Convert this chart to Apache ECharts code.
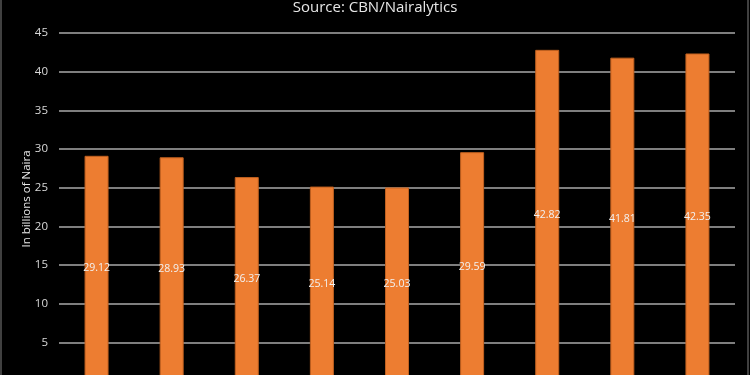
<!DOCTYPE html>
<html>
<head>
<meta charset="utf-8">
<script src="https://cdn.jsdelivr.net/npm/echarts@6/dist/echarts.min.js"></script>
<style>
html,body{margin:0;padding:0;background:#000;}
#chart{width:750px;height:375px;}
</style>
</head>
<body>
<div id="chart"></div>
<script>
const categories = ['P1','P2','P3','P4','P5','P6','P7','P8','P9'];
const values = [29.12, 28.93, 26.37, 25.14, 25.03, 29.59, 42.82, 41.81, 42.35];
const titleText = 'Source: CBN/Nairalytics';
const yAxisName = 'In billions of Naira';

const chart = echarts.init(document.getElementById('chart'));
chart.setOption({
  backgroundColor: '#000',
  animation: false,
  title: {
    text: titleText,
    left: 'center',
    top: -5,
    textStyle: { color: '#e6e6e6', fontSize: 15, fontWeight: 'normal', fontFamily: 'Open Sans' }
  },
  grid: { left: 59, right: 15, top: 33, height: 348, containLabel: false, outerBoundsMode: 'none' },
  xAxis: {
    type: 'category',
    data: categories,
    axisLine: { show: false },
    axisTick: { show: false },
    axisLabel: { show: false }
  },
  yAxis: {
    type: 'value',
    min: 0, max: 45, interval: 5,
    name: yAxisName,
    nameLocation: 'middle',
    nameGap: 26,
    nameMoveOverlap: false,
    nameTextStyle: { color: '#e6e6e6', fontSize: 11.5, fontFamily: 'Open Sans', padding: [0, 0, 0, 16] },
    axisLine: { show: false },
    axisTick: { show: false },
    axisLabel: { color: '#d9d9d9', fontSize: 11.5, fontFamily: 'Open Sans', margin: 11 },
    splitLine: { lineStyle: { color: '#a8a8a8', width: 1.5 } }
  },
  series: [{
    type: 'bar',
    data: values,
    barWidth: 24,
    itemStyle: { color: '#ED7D31', borderColor: '#c0601f', borderWidth: 1 },
    label: {
      show: true,
      position: 'inside',
      color: '#f2f2f2',
      fontSize: 10.5,
      fontFamily: 'Open Sans',
      formatter: p => p.value.toFixed(2)
    }
  }],
  graphic: [{
    type: 'rect',
    shape: { x: 1, y: -5, width: 747, height: 390 },
    style: { fill: 'none', stroke: '#808080', lineWidth: 1 },
    silent: true
  }]
});
</script>
</body>
</html>
